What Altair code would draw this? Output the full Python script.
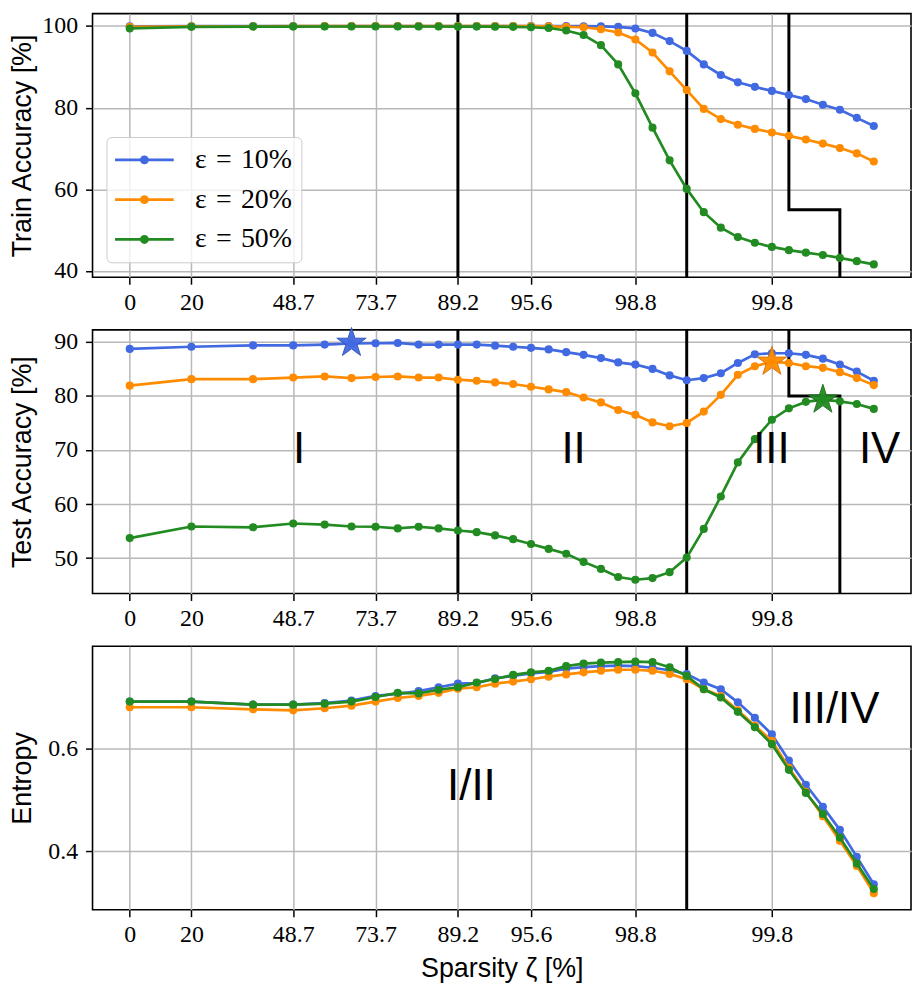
import math
import altair as alt
import pandas as pd

# ---------------------------------------------------------------- data
SERIES = ["ε\u2004=\u200410%", "ε\u2004=\u200420%", "ε\u2004=\u200450%"]
COLORS = ["#4169e1", "#ff8c00", "#228b22"]
STAR_EDGE = ["#2d50b8", "#d87400", "#196a19"]

# sparsity (%) of each pruning round (20 % of the remaining weights per round)
sparsity = [0, 20, 36, 48.8, 59.04, 67.232, 73.7856, 79.0285, 83.2228, 86.5782,
            89.2626, 91.4101, 93.1281, 94.5024, 95.6020, 96.4816, 97.1853, 97.7482,
            98.1986, 98.5588, 98.8471, 99.0777, 99.2621, 99.4097, 99.5278, 99.6222,
            99.6978, 99.7582, 99.8066, 99.8453, 99.8762, 99.9010, 99.9208, 99.9366,
            99.9493]

train_10 = [99.9, 99.95, 99.97, 99.98, 99.98, 99.99, 99.99, 99.99, 99.99, 99.99,
            99.99, 99.99, 99.99, 99.99, 99.98, 99.97, 99.96, 99.95, 99.9, 99.8,
            99.4, 98.3, 96.3, 93.9, 90.6, 88.0, 86.2, 85.1, 84.1, 83.1,
            82.1, 80.7, 79.5, 77.5, 75.5]
train_20 = [99.8, 99.9, 99.93, 99.95, 99.96, 99.97, 99.97, 99.98, 99.98, 99.98,
            99.98, 99.98, 99.97, 99.96, 99.95, 99.9, 99.8, 99.7, 99.2, 98.4,
            96.7, 93.5, 88.9, 84.3, 79.7, 77.2, 75.8, 74.8, 73.9, 73.1,
            72.2, 71.2, 70.1, 68.8, 66.8]
train_50 = [99.4, 99.8, 99.85, 99.85, 99.87, 99.88, 99.88, 99.88, 99.88, 99.87,
            99.86, 99.85, 99.83, 99.8, 99.7, 99.5, 98.9, 97.8, 95.3, 90.6,
            83.5, 75.1, 67.1, 60.1, 54.4, 50.6, 48.3, 46.9, 45.9, 45.1,
            44.5, 43.9, 43.2, 42.4, 41.6]

test_10 = [88.7, 89.1, 89.35, 89.35, 89.5, 89.7, 89.75, 89.8, 89.5, 89.5,
           89.5, 89.5, 89.3, 89.1, 88.9, 88.6, 88.1, 87.6, 87.0, 86.2,
           85.8, 85.0, 83.8, 82.9, 83.3, 84.2, 86.1, 87.7, 87.9, 87.9,
           87.6, 86.9, 85.8, 84.5, 82.8]
test_20 = [81.9, 83.1, 83.1, 83.4, 83.6, 83.3, 83.5, 83.6, 83.4, 83.4,
           83.0, 82.8, 82.5, 82.2, 81.7, 81.2, 80.7, 79.7, 78.8, 77.4,
           76.5, 75.1, 74.4, 75.0, 77.1, 80.2, 83.9, 85.5, 86.3, 86.1,
           85.5, 85.2, 84.4, 83.3, 82.0]
test_50 = [53.7, 55.85, 55.7, 56.4, 56.2, 55.85, 55.8, 55.5, 55.8, 55.5,
           55.1, 54.8, 54.2, 53.5, 52.6, 51.7, 50.8, 49.3, 48.0, 46.5,
           46.0, 46.3, 47.4, 50.1, 55.4, 61.4, 67.7, 72.0, 75.6, 77.7,
           78.9, 79.3, 79.0, 78.5, 77.6]

ent_10 = [0.692, 0.692, 0.686, 0.686, 0.689, 0.694, 0.703, 0.707, 0.7125, 0.720,
          0.727, 0.728, 0.7375, 0.742, 0.747, 0.750, 0.756, 0.759, 0.761, 0.762,
          0.761, 0.758, 0.753, 0.7457, 0.729, 0.716, 0.6906, 0.6606, 0.628, 0.577,
          0.530, 0.487, 0.442, 0.3894, 0.336]
ent_20 = [0.681, 0.681, 0.677, 0.675, 0.679, 0.684, 0.692, 0.699, 0.703, 0.709,
          0.717, 0.720, 0.727, 0.731, 0.7355, 0.7406, 0.745, 0.749, 0.752, 0.754,
          0.754, 0.752, 0.746, 0.7355, 0.716, 0.703, 0.675, 0.645, 0.6156, 0.563,
          0.516, 0.4687, 0.4206, 0.3718, 0.3187]
ent_50 = [0.692, 0.692, 0.686, 0.686, 0.688, 0.692, 0.701, 0.709, 0.708, 0.715,
          0.720, 0.729, 0.736, 0.744, 0.749, 0.752, 0.761, 0.766, 0.768, 0.769,
          0.770, 0.769, 0.759, 0.742, 0.716, 0.700, 0.672, 0.642, 0.609, 0.559,
          0.514, 0.473, 0.427, 0.3763, 0.3268]

tick_sparsity = [0, 20, 48.8, 73.7856, 89.2626, 95.6020, 98.8471, 99.8066]
tick_labels = ["0", "20", "48.7", "73.7", "89.2", "95.6", "98.8", "99.8"]

star_sparsity = [67.232, 99.8066, 99.9010]
star_test = [89.8, 86.3, 79.3]

phase_lines_acc = [89.2626, 99.4097]
phase_lines_ent = [99.4097]
step_sparsity = [99.8453, 99.8453, 99.9208, 99.9208]
train_step_level = 55
test_step_level = 80

test_region_text = ["I", "II", "III", "IV"]
test_region_s = [50.7, 97.44, 99.8055, 99.953]
test_region_y = [70.0, 70.0, 70.0, 70.0]
ent_region_text = ["I/II", "III/IV"]
ent_region_s = [90.85, 99.915]
ent_region_y = [0.526, 0.676]

train_domain = [38.47, 103.02]
test_domain = [43.46, 92.21]
ent_domain = [0.2864, 0.800]

# ---------------------------------------------------------------- helpers
DENSE_POS = 10.0  # the dense network (0 %) is drawn at this position on the logit axis


def logit(p):
    p = max(p, DENSE_POS)
    return math.log(p / (100.0 - p))


XCALC = f"log(max(datum.s, {DENSE_POS}) / (100 - max(datum.s, {DENSE_POS})))"
_lo, _hi = logit(sparsity[0]), logit(sparsity[-1])
_m = 0.05 * (_hi - _lo)
XDOM = [_lo - _m, _hi + _m]
tick_pos = [logit(s) for s in tick_sparsity]
LABEL_EXPR = " : ".join(
    f"abs(datum.value - ({p:.6f})) < 0.001 ? '{l}'" for p, l in zip(tick_pos, tick_labels)
) + " : ''"


def polygon(cx, r, n=16):
    pts = [(cx + r * math.cos(2 * math.pi * i / n), r * math.sin(2 * math.pi * i / n)) for i in range(n)]
    return "M" + "L".join(f"{x:.3f},{y:.3f}" for x, y in pts) + "Z"


LEG_PATH = "M-3.59,0L11.16,0" + polygon(3.79, 0.78)


def star_path():
    pts = []
    for i in range(10):
        r = 1.0 if i % 2 == 0 else 0.382
        a = math.radians(-90 + 36 * i)
        pts.append((r * math.cos(a), r * math.sin(a)))
    return "M" + "L".join(f"{x:.4f},{y:.4f}" for x, y in pts) + "Z"


STAR_PATH = star_path()

W = 823
H = 265
PT_SIZE = 30
PT_STROKE = 2.7

color_scale = alt.Scale(domain=SERIES, range=COLORS)
stroke_scale = alt.Scale(domain=SERIES, range=COLORS)

LEG = alt.Legend(orient="none", legendX=14, legendY=124, title=None,
                 symbolType=LEG_PATH, symbolSize=64, symbolStrokeWidth=2.7,
                 labelOffset=52, labelFont="Liberation Serif", labelFontSize=28,
                 labelColor="black", labelLimit=400,
                 fillColor="rgba(255,255,255,0.8)", strokeColor="#cccccc",
                 cornerRadius=5, padding=9, rowPadding=12, symbolOpacity=1)


def series_df(vals, name):
    return pd.DataFrame({"s": sparsity, "value": vals, "series": name})


def panel(values, ydom, ytitle, yvals, yfmt, legend, xtitle, step_level, phase_lines,
          region_text, region_s, region_y, stars=None):
    if xtitle:
        xax = alt.Axis(values=tick_pos, labelExpr=LABEL_EXPR, title=xtitle,
                       titleY=67, titleBaseline="alphabetic")
    else:
        xax = alt.Axis(values=tick_pos, labelExpr=LABEL_EXPR, title=None)
    X = alt.X("xl:Q", scale=alt.Scale(domain=XDOM, nice=False, zero=False), axis=xax)
    Y = alt.Y("value:Q", scale=alt.Scale(domain=ydom, nice=False, zero=False),
              axis=alt.Axis(values=yvals, format=yfmt, title=ytitle, titleX=-56,
                            titleY=H / 2, titleBaseline="bottom", titleAlign="center"))

    layers = []
    rules = alt.Chart(pd.DataFrame({"s": phase_lines})).mark_rule(
        color="black", strokeWidth=3).transform_calculate(xl=XCALC).encode(x=X)
    layers.append(rules)
    if step_level is not None:
        step_df = pd.DataFrame({"s": step_sparsity,
                                "value": [ydom[1], step_level, step_level, ydom[0]],
                                "o": [0, 1, 2, 3]})
        step = alt.Chart(step_df).mark_line(color="black", strokeWidth=3, clip=True).transform_calculate(
            xl=XCALC).encode(x=X, y=Y, order="o:Q")
        layers.append(step)

    for name, col, vals in zip(SERIES, COLORS, values):
        sub = series_df(vals, name)
        line = alt.Chart(sub).mark_line(strokeWidth=2.7, clip=True, color=col).transform_calculate(
            xl=XCALC).encode(x=X, y=Y)
        if legend:
            pts = alt.Chart(sub).mark_point(filled=True, size=PT_SIZE, opacity=1, strokeWidth=PT_STROKE,
                                            clip=True).transform_calculate(xl=XCALC).encode(
                x=X, y=Y,
                color=alt.Color("series:N", scale=color_scale, legend=LEG),
                stroke=alt.Stroke("series:N", scale=stroke_scale, legend=LEG))
        else:
            pts = alt.Chart(sub).mark_point(filled=True, size=PT_SIZE, opacity=1, strokeWidth=PT_STROKE,
                                            clip=True, color=col, stroke=col).transform_calculate(
                xl=XCALC).encode(x=X, y=Y)
        layers += [line, pts]

    if stars is not None:
        for s, v, col, edge in zip(star_sparsity, stars, COLORS, STAR_EDGE):
            sdf = pd.DataFrame({"s": [s], "value": [v]})
            star = alt.Chart(sdf).mark_point(shape=STAR_PATH, filled=True, size=960, opacity=0.95,
                                             strokeWidth=1, color=col, stroke=edge).transform_calculate(
                xl=XCALC).encode(x=X, y=Y)
            layers.append(star)

    if region_text:
        tdf = pd.DataFrame({"s": region_s, "value": region_y, "t": region_text})
        txt = alt.Chart(tdf).mark_text(font="Liberation Sans", fontSize=44, color="black",
                                       align="center", baseline="middle").transform_calculate(
            xl=XCALC).encode(x=X, y=Y, text="t:N")
        layers.append(txt)

    return alt.layer(*layers).properties(width=W, height=H)


p_train = panel([train_10, train_20, train_50], train_domain, "Train Accuracy [%]",
                [40, 60, 80, 100], "d", True, None, train_step_level, phase_lines_acc,
                None, None, None)
p_test = panel([test_10, test_20, test_50], test_domain, "Test Accuracy [%]",
               [50, 60, 70, 80, 90], "d", False, None, test_step_level, phase_lines_acc,
               test_region_text, test_region_s, test_region_y, stars=star_test)
p_ent = panel([ent_10, ent_20, ent_50], ent_domain, "Entropy",
              [0.4, 0.6], ".1f", False, "Sparsity ζ [%]", None, phase_lines_ent,
              ent_region_text, ent_region_s, ent_region_y)

chart = alt.vconcat(p_train, p_test, p_ent, spacing=53, bounds="flush").properties(
    padding={"left": 0, "top": 0, "right": 1, "bottom": 0}
).configure_view(
    stroke="black", strokeWidth=1.6
).configure_axis(
    labelFont="Liberation Serif", labelFontSize=24, labelColor="black",
    tickColor="black", tickWidth=1.5, tickSize=7, domain=False,
    grid=True, gridColor="#b8b8b8", gridWidth=1.5,
    titleFont="Liberation Sans", titleFontSize=27, titleFontWeight="normal",
    titleColor="black", labelOverlap=False, labelFlush=False
).configure_axisX(labelPadding=6).configure_axisY(labelPadding=8)

chart.save("out.html", embed_options={"renderer": "svg", "actions": False})
